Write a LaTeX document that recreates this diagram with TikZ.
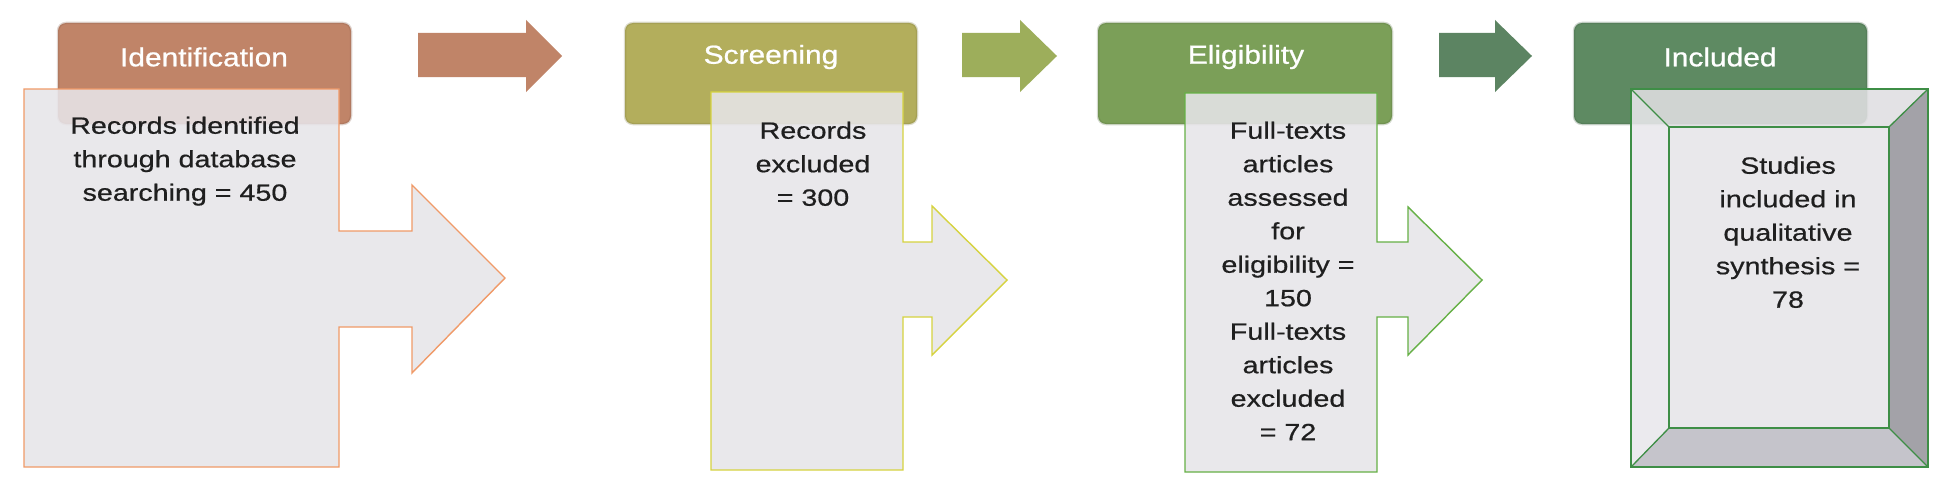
\documentclass[tikz,border=0pt]{standalone}
\usepackage{fontspec}
\setmainfont{Liberation Sans}
\newfontfamily\bodyf[FakeStretch=1.22,FakeBold=0.6]{Liberation Sans}
\newfontfamily\headf[FakeStretch=1.15,FakeBold=0.8]{Liberation Sans}
\definecolor{hA}{HTML}{C08468}
\definecolor{hB}{HTML}{B3AE5C}
\definecolor{hC}{HTML}{7B9F58}
\definecolor{hD}{HTML}{5E8A62}
\definecolor{arB}{HTML}{9DAE5B}
\definecolor{arC}{HTML}{5C8462}
\definecolor{bA}{HTML}{F09A68}
\definecolor{bB}{HTML}{D6D340}
\definecolor{bC}{HTML}{66B046}
\definecolor{bD}{HTML}{3E8E46}
\definecolor{boxfill}{HTML}{E7E5E9}
\definecolor{txt}{HTML}{1F1F1F}
\definecolor{bvR}{HTML}{97969C}
\definecolor{bvB}{HTML}{BDBCC4}
\definecolor{bvL}{HTML}{E9E8EC}
\definecolor{bvT}{HTML}{E0DFE2}
\tikzset{
  hdr/.style={rounded corners=8pt, inner sep=0pt, minimum height=101pt, line width=2.5pt, draw opacity=0.25},
  htext/.style={inner sep=0pt, text=white, font=\headf\fontsize{26}{30}\selectfont},
  btext/.style={inner sep=0pt, anchor=north, align=center, text=txt, font=\bodyf\fontsize{23.5}{33.5}\selectfont},
  callout/.style={fill=boxfill, fill opacity=0.88, line width=1.4pt, line join=miter},
  bevface/.style={fill opacity=0.88, draw=none},
  bevline/.style={draw=bD, line width=1.3pt}
}
\begin{document}
\begin{tikzpicture}[x=1pt,y=-1pt]
\useasboundingbox (0,0) rectangle (1951,487);
\fill[white] (0,0) rectangle (1951,487);

% headers
\node[hdr, fill=hA, draw=hA!70!black, minimum width=293pt] (h1) at (204.5,73.5) {};
\node[hdr, fill=hB, draw=hB!70!black, minimum width=292pt] (h2) at (771,73.5) {};
\node[hdr, fill=hC, draw=hC!70!black, minimum width=294pt] (h3) at (1245,73.5) {};
\node[hdr, fill=hD, draw=hD!70!black, minimum width=293pt] (h4) at (1720.5,73.5) {};
\node[htext] (t1) at (204,57) {Identification};
\node[htext] (t2) at (771,57) {Screening};
\node[htext] (t3) at (1246,57) {Eligibility};
\node[htext] (t4) at (1720,57) {Included};

% top arrows
\fill[hA] (418,33) -- (526,33) -- (526,20) -- (562,56) -- (526,92) -- (526,77) -- (418,77) -- cycle;
\fill[arB] (962,33) -- (1020,33) -- (1020,20) -- (1057,56) -- (1020,92) -- (1020,77) -- (962,77) -- cycle;
\fill[arC] (1439,33) -- (1495,33) -- (1495,20) -- (1532,56) -- (1495,92) -- (1495,77) -- (1439,77) -- cycle;

% callouts
\draw[callout, draw=bA] (24,89) -- (339,89) -- (339,231) -- (412,231) -- (412,185) -- (505,278)
  -- (412,373) -- (412,327) -- (339,327) -- (339,467) -- (24,467) -- cycle;
\draw[callout, draw=bB] (711,92) -- (903,92) -- (903,242) -- (932,242) -- (932,206) -- (1007,280)
  -- (932,355) -- (932,317) -- (903,317) -- (903,470) -- (711,470) -- cycle;
\draw[callout, draw=bC] (1185,93) -- (1377,93) -- (1377,242) -- (1408,242) -- (1408,207) -- (1482,280)
  -- (1408,355) -- (1408,317) -- (1377,317) -- (1377,472) -- (1185,472) -- cycle;

% bevel box
\coordinate (o1) at (1631,89); \coordinate (o2) at (1928,89);
\coordinate (o3) at (1928,467); \coordinate (o4) at (1631,467);
\coordinate (i1) at (1669,127); \coordinate (i2) at (1889,127);
\coordinate (i3) at (1889,428); \coordinate (i4) at (1669,428);
\fill[bevface, bvT] (o1) -- (o2) -- (i2) -- (i1) -- cycle;
\fill[bevface, bvL] (o1) -- (i1) -- (i4) -- (o4) -- cycle;
\fill[bevface, bvR] (o2) -- (o3) -- (i3) -- (i2) -- cycle;
\fill[bevface, bvB] (o4) -- (i4) -- (i3) -- (o3) -- cycle;
\fill[bevface, boxfill] (i1) -- (i2) -- (i3) -- (i4) -- cycle;
\draw[bevline] (o1) -- (o2) -- (o3) -- (o4) -- cycle;
\draw[bevline] (i1) -- (i2) -- (i3) -- (i4) -- cycle;
\draw[bevline] (o1) -- (i1) (o2) -- (i2) (o3) -- (i3) (o4) -- (i4);

% body texts
\node[btext] (b1) at (185,116.5) {Records identified\\through database\\searching = 450};
\node[btext] (b2) at (813,121.5) {Records\\excluded\\= 300};
\node[btext] (b3) at (1288,121.5) {Full-texts\\articles\\assessed\\for\\eligibility =\\150\\Full-texts\\articles\\excluded\\= 72};
\node[btext] (b4) at (1788,156.5) {Studies\\included in\\qualitative\\synthesis =\\78};
\end{tikzpicture}
\end{document}
